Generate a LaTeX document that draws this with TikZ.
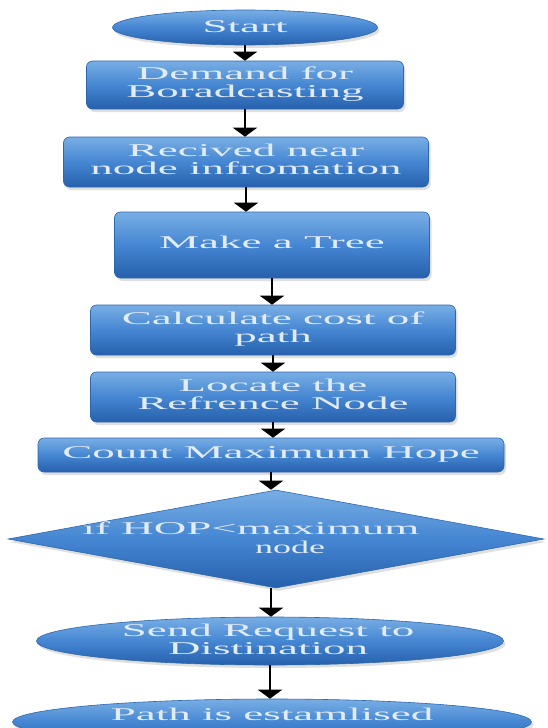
\documentclass[tikz,border=0pt]{standalone}
\usepackage{graphicx}
\usepackage{fontspec}
\setmainfont{Liberation Serif}
\usetikzlibrary{arrows.meta,shapes.geometric,shadows}
\definecolor{btop}{HTML}{78AEE4}
\definecolor{bmid}{HTML}{4586D2}
\definecolor{bbot}{HTML}{2660AC}
\definecolor{bedge}{HTML}{2D67B0}
\definecolor{txt}{HTML}{E2ECF7}
\newcommand{\sx}[1]{\scalebox{2.5}[1]{\begin{tabular}{@{}c@{}}#1\end{tabular}}}
\tikzset{
  blue fill/.style={top color=btop, bottom color=bbot, middle color=bmid,
    draw=bedge, line width=0.6pt,
    drop shadow={opacity=0.25, shadow xshift=2pt, shadow yshift=-3pt}},
  procbox/.style={blue fill, rectangle, rounded corners=6pt, inner sep=0pt,
    text=txt, font=\fontsize{18}{18}\selectfont},
  ellbox/.style={blue fill, ellipse, inner sep=0pt},
  diabox/.style={blue fill, diamond, inner sep=0pt},
  lbl/.style={text=txt, font=\fontsize{18}{18}\selectfont, inner sep=0pt},
  arr/.style={draw=black, line width=2pt, -{Triangle[width=24pt,length=9pt]}}
}
\begin{document}
\begin{tikzpicture}[x=1pt,y=-1pt]
\useasboundingbox (0,0) rectangle (547,728);
\fill[white] (0,0) rectangle (547,728);
\clip (0,0) rectangle (547,728);

\node[ellbox, minimum width=265pt, minimum height=35pt] (start) at (245,27.5) {};
\node[lbl] (startt) at (245,29) {\sx{Start}};

\node[procbox, minimum width=317pt, minimum height=48pt] (b1) at (245,85)
  {\sx{Demand for\\Boradcasting}};
\node[procbox, minimum width=365pt, minimum height=50pt] (b2) at (246,162)
  {\sx{Recived near\\node infromation}};
\node[procbox, minimum width=315pt, minimum height=66pt] (b3) at (272,245)
  {\sx{Make a Tree}};
\node[procbox, minimum width=365pt, minimum height=50pt] (b4) at (273,330)
  {\sx{Calculate cost of\\path}};
\node[procbox, minimum width=365pt, minimum height=50pt] (b5) at (273,397)
  {\sx{Locate the\\Refrence Node}};
\node[procbox, minimum width=466pt, minimum height=34pt] (b6) at (271,455)
  {\sx{Count Maximum Hope}};

\node[diabox, minimum width=536pt, minimum height=98pt] (dia) at (276,539) {};
\node[lbl, anchor=base] (diat1) at (251,535) {\sx{if HOP<maximum}};
\node[lbl, anchor=base] (diat2) at (290,553) {\scalebox{2.0}[1]{node}};

\node[ellbox, minimum width=467pt, minimum height=48pt] (send) at (270,641) {};
\node[lbl] (sendt) at (268,642) {\sx{Send Request to\\Distination}};

\node[ellbox, minimum width=519pt, minimum height=46pt] (path) at (272,722) {};
\node[lbl] (patht) at (272,717) {\sx{Path is estamlised}};

\draw[arr] (start.south) -- (b1.north);
\draw[arr] (b1.south) -- (b1.south |- b2.north);
\draw[arr] (b2.south) -- (b2.south |- b3.north);
\draw[arr] (b3.south) -- (b3.south |- b4.north);
\draw[arr] (b4.south) -- (b4.south |- b5.north);
\draw[arr] (b5.south) -- (b5.south |- b6.north);
\draw[arr] (b6.south) -- (b6.south |- dia.north);
\draw[arr] (b6.south |- dia.south) -- (b6.south |- send.north);
\draw[arr] (send.south) -- (send.south |- path.north);
\end{tikzpicture}
\end{document}
